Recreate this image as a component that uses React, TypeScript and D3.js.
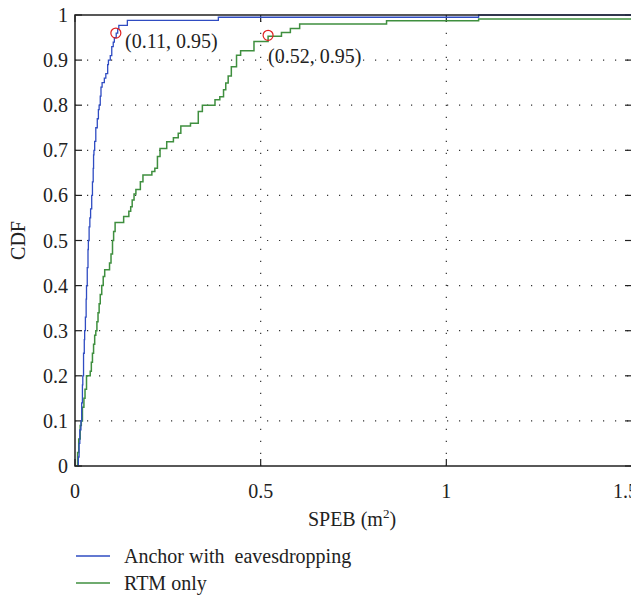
import React from "react";
import * as d3 from "d3";

const anchorX = [0.008, 0.009, 0.011, 0.013, 0.016, 0.018, 0.02, 0.021, 0.023, 0.025, 0.026, 0.028, 0.03, 0.031, 0.033, 0.035, 0.036, 0.038, 0.04, 0.042, 0.045, 0.047, 0.049, 0.05, 0.051, 0.053, 0.056, 0.06, 0.063, 0.065, 0.068, 0.07, 0.073, 0.079, 0.083, 0.088, 0.09, 0.095, 0.099, 0.103, 0.106, 0.111, 0.115, 0.118, 0.141, 0.386, 1.087, 1.5];
const anchorY = [0, 0.02, 0.05, 0.08, 0.1, 0.14, 0.18, 0.2, 0.25, 0.28, 0.3, 0.33, 0.37, 0.4, 0.44, 0.48, 0.5, 0.53, 0.55, 0.57, 0.6, 0.63, 0.66, 0.69, 0.7, 0.72, 0.75, 0.77, 0.79, 0.8, 0.82, 0.84, 0.85, 0.86, 0.87, 0.89, 0.9, 0.91, 0.93, 0.94, 0.95, 0.96, 0.97, 0.977, 0.988, 0.995, 1.0, 1.0];

const rtmX = [0.005, 0.007, 0.01, 0.014, 0.017, 0.02, 0.024, 0.027, 0.031, 0.041, 0.044, 0.047, 0.05, 0.053, 0.056, 0.059, 0.062, 0.065, 0.068, 0.072, 0.076, 0.08, 0.093, 0.097, 0.101, 0.104, 0.108, 0.131, 0.145, 0.15, 0.154, 0.159, 0.164, 0.176, 0.183, 0.207, 0.215, 0.222, 0.229, 0.247, 0.265, 0.278, 0.285, 0.311, 0.332, 0.343, 0.377, 0.39, 0.4, 0.406, 0.4125, 0.421, 0.435, 0.446, 0.482, 0.52, 0.556, 0.58, 0.605, 0.839, 1.087, 1.5];
const rtmY = [0, 0.03, 0.06, 0.09, 0.1, 0.13, 0.15, 0.17, 0.2, 0.21, 0.23, 0.25, 0.27, 0.29, 0.3, 0.32, 0.34, 0.36, 0.38, 0.4, 0.42, 0.435, 0.45, 0.47, 0.5, 0.52, 0.54, 0.553, 0.565, 0.575, 0.59, 0.603, 0.613, 0.63, 0.645, 0.653, 0.66, 0.686, 0.704, 0.719, 0.728, 0.738, 0.754, 0.76, 0.786, 0.8, 0.812, 0.819, 0.834, 0.849, 0.865, 0.885, 0.911, 0.921, 0.941, 0.953, 0.961, 0.97, 0.98, 0.987, 0.991, 0.991];

const xTicks = [0, 0.5, 1, 1.5];
const xTickLabels = ["0", "0.5", "1", "1.5"];
const yTicks = [0, 0.1, 0.2, 0.3, 0.4, 0.5, 0.6, 0.7, 0.8, 0.9, 1];
const yTickLabels = ["0", "0.1", "0.2", "0.3", "0.4", "0.5", "0.6", "0.7", "0.8", "0.9", "1"];
const markX = [0.11, 0.52];
const markY = [0.96, 0.955];
const markLabels = ["(0.11, 0.95)", "(0.52, 0.95)"];
const seriesNames = ["Anchor with  eavesdropping", "RTM only"];
const seriesColors = ["#2f4cc2", "#3f8f3f"];

const L = 75, R = 632, T = 15, B = 466;
const FONT = "'Liberation Serif', 'DejaVu Serif', serif";

export default function App() {
  const x = d3.scaleLinear().domain([0, 1.5]).range([L, R]);
  const y = d3.scaleLinear().domain([0, 1]).range([B, T]);
  const line = d3.line<number>().curve(d3.curveStepAfter);
  const mk = (xs: number[], ys: number[]) =>
    line.x((_, i) => x(xs[i])).y((_, i) => y(ys[i]))(xs) || "";
  const pA = mk(anchorX, anchorY);
  const pR = mk(rtmX, rtmY);
  const ts = { fontFamily: FONT, whiteSpace: "pre" as const };
  const fs = 20;
  return (
    <svg width={639} height={599} style={{ display: "block", marginTop: -8, marginLeft: -8, fontFamily: FONT }}>
      <rect x={0} y={0} width={639} height={599} fill="#fff" />
      {yTicks.slice(1, -1).map((t) => (
        <line key={"gy" + t} x1={L} x2={R} y1={y(t)} y2={y(t)} stroke="#333" strokeWidth={1.2} strokeDasharray="1.2,10.8" />
      ))}
      {xTicks.slice(1, -1).map((t) => (
        <line key={"gx" + t} x1={x(t)} x2={x(t)} y1={B} y2={T} stroke="#333" strokeWidth={1.2} strokeDasharray="1.2,10.8" />
      ))}
      {yTicks.map((t, i) => (
        <g key={"ty" + t}>
          <line x1={L} x2={L + 7} y1={y(t)} y2={y(t)} stroke="#222" strokeWidth={1.2} />
          <line x1={R - 7} x2={R} y1={y(t)} y2={y(t)} stroke="#222" strokeWidth={1.2} />
          <text x={68} y={y(t) + 7} textAnchor="end" fontSize={fs} fill="#222" style={ts}>{yTickLabels[i]}</text>
        </g>
      ))}
      {xTicks.map((t, i) => {
        const last = i === xTicks.length - 1;
        return (
          <g key={"tx" + t}>
            <line x1={x(t)} x2={x(t)} y1={B} y2={B - 7} stroke="#222" strokeWidth={1.2} />
            <line x1={x(t)} x2={x(t)} y1={T} y2={T + 7} stroke="#222" strokeWidth={1.2} />
            <text x={last ? 638 : x(t)} y={498} textAnchor={last ? "end" : "middle"} fontSize={fs} fill="#222" style={ts}>{xTickLabels[i]}</text>
          </g>
        );
      })}
      <path d={pR} fill="none" stroke={seriesColors[1]} strokeWidth={1.5} />
      <path d={pA} fill="none" stroke={seriesColors[0]} strokeWidth={1.3} />
      <rect x={L} y={T} width={R - L} height={B - T} fill="none" stroke="#222" strokeWidth={1.5} />
      {markX.map((m, i) => (
        <circle key={"m" + i} cx={x(m)} cy={y(markY[i])} r={5} fill="none" stroke="#e02020" strokeWidth={1.2} />
      ))}
      <text x={125} y={48} fontSize={fs} fill="#222" style={ts}>{markLabels[0]}</text>
      <text x={268} y={63} fontSize={fs} fill="#222" style={ts}>{markLabels[1]}</text>
      <text x={352} y={526} textAnchor="middle" fontSize={fs} fill="#222" style={ts}>
        SPEB (m<tspan dy={-8} fontSize={13}>2</tspan><tspan dy={8}>)</tspan>
      </text>
      <text transform={`translate(25,${(T + B) / 2}) rotate(-90)`} textAnchor="middle" fontSize={fs} fill="#222" style={ts}>CDF</text>
      {seriesNames.map((n, i) => (
        <g key={"lg" + i}>
          <line x1={76} x2={110} y1={556 + i * 27} y2={556 + i * 27} stroke={seriesColors[i]} strokeWidth={1.5} />
          <text x={124} y={563 + i * 27} fontSize={fs} fill="#222" style={ts}>{n}</text>
        </g>
      ))}
    </svg>
  );
}
